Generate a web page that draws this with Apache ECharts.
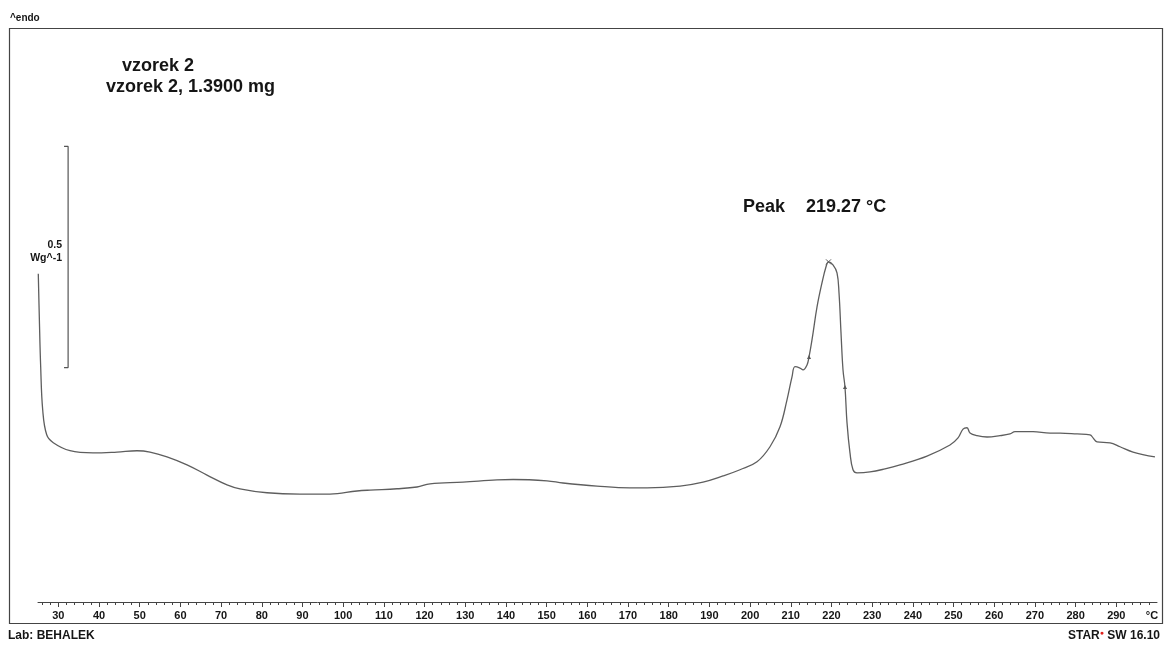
<!DOCTYPE html>
<html>
<head>
<meta charset="utf-8">
<script src="https://cdn.jsdelivr.net/npm/echarts@6/dist/echarts.min.js"></script>
<style>
  html, body { margin: 0; padding: 0; background: #fff; }
  #chart { width: 1166px; height: 646px; }
</style>
</head>
<body>
<div id="chart"></div>
<script>
// DSC curve, temperature in °C and heat flow in W/g (offset is arbitrary, only the 0.5 W/g bar matters)
const temps = [
  25.07, 25.32, 25.66, 26.16, 27.14, 28.76, 32.86, 38.52, 44.41, 49.33,
  52.53, 56.70, 61.62, 66.53, 71.45, 74.64, 81.28, 89.39, 96.76, 103.40,
  106.59, 113.23, 118.14, 121.34, 129.45, 137.80, 141.74, 150.09, 154.02, 162.38,
  170.49, 174.67, 182.78, 188.43, 193.35, 197.52, 201.70, 204.89, 207.35, 209.07,
  210.30, 211.04, 212.27, 213.01, 213.99, 214.48, 215.22, 216.45, 217.68, 218.66,
  219.27, 220.37, 221.36, 221.85, 222.34, 222.83, 223.32, 223.82, 224.55, 225.29,
  226.27, 229.47, 233.16, 236.84, 243.48, 249.13, 251.10, 252.33, 253.31, 254.05,
  255.77, 258.23, 261.42, 263.88, 265.11, 269.53, 273.71, 276.17, 280.35, 283.54,
  284.28, 285.26, 288.46, 290.91, 294.11, 299.50
];
const heatFlow = [
  0.742, 0.645, 0.532, 0.434, 0.378, 0.360, 0.342, 0.337, 0.339, 0.342,
  0.339, 0.328, 0.310, 0.287, 0.265, 0.256, 0.247, 0.244, 0.244, 0.251,
  0.253, 0.256, 0.260, 0.267, 0.271, 0.276, 0.277, 0.274, 0.269, 0.262,
  0.258, 0.258, 0.262, 0.271, 0.285, 0.299, 0.317, 0.351, 0.396, 0.457,
  0.509, 0.532, 0.529, 0.525, 0.536, 0.554, 0.593, 0.667, 0.722, 0.758,
  0.769, 0.762, 0.744, 0.699, 0.609, 0.525, 0.486, 0.405, 0.337, 0.299,
  0.292, 0.294, 0.301, 0.310, 0.330, 0.355, 0.371, 0.391, 0.394, 0.382,
  0.376, 0.373, 0.376, 0.380, 0.385, 0.385, 0.382, 0.382, 0.380, 0.378,
  0.371, 0.362, 0.360, 0.351, 0.339, 0.328
];

// peak marker and integration limits
const peakPoint = [219.27, 0.769];
const limitPoints = [[214.48, 0.554], [223.32, 0.486]];

// 0.5 W/g scale bar
const scaleBarT = [31.4, 32.4, 32.4, 31.4];
const scaleBarV = [1.03, 1.03, 0.53, 0.53];

// x axis ticks
const majorTicks = [30, 40, 50, 60, 70, 80, 90, 100, 110, 120, 130, 140, 150, 160, 170, 180,
  190, 200, 210, 220, 230, 240, 250, 260, 270, 280, 290];
const minorTicks = [];
for (let t = 26; t <= 298; t += 2) minorTicks.push(t);

const chart = echarts.init(document.getElementById('chart'));

const fontFamily = 'Liberation Sans, Arial, sans-serif';
const textCol = '#151515';

const option = {
  backgroundColor: '#fff',
  animation: false,
  grid: { left: 38, right: 9, top: 27, bottom: 44 },
  xAxis: [
    {
      type: 'value',
      min: 25,
      max: 300,
      axisLine: { show: true, lineStyle: { color: '#444', width: 1 } },
      axisTick: { show: true, customValues: minorTicks, length: 3, lineStyle: { color: '#444' } },
      axisLabel: {
        customValues: majorTicks,
        margin: 8,
        color: textCol,
        fontWeight: 'bold',
        fontSize: 11,
        fontFamily: fontFamily
      },
      splitLine: { show: false }
    },
    {
      type: 'value',
      min: 25,
      max: 300,
      position: 'bottom',
      axisLine: { show: false },
      axisTick: { show: true, customValues: majorTicks, length: 5, lineStyle: { color: '#444' } },
      axisLabel: { show: false },
      splitLine: { show: false }
    }
  ],
  yAxis: {
    type: 'value',
    min: 0,
    max: 1.3,
    show: false
  },
  series: [
    {
      name: 'vzorek 2',
      type: 'line',
      data: temps.map((t, i) => [t, heatFlow[i]]),
      showSymbol: false,
      smooth: 0.4,
      lineStyle: { color: '#5e5e5e', width: 1.3 }
    },
    {
      name: 'scale',
      type: 'line',
      data: scaleBarT.map((t, i) => [t, scaleBarV[i]]),
      showSymbol: false,
      lineStyle: { color: '#555', width: 1.2 }
    },
    {
      name: 'peak',
      type: 'scatter',
      data: [peakPoint],
      symbol: 'path://M0,0L10,10M10,0L0,10',
      symbolSize: 5,
      itemStyle: { color: 'none', borderColor: '#333', borderWidth: 1 }
    },
    {
      name: 'limits',
      type: 'scatter',
      data: limitPoints,
      symbol: 'triangle',
      symbolSize: 4,
      itemStyle: { color: '#222' }
    }
  ],
  graphic: [
    // frame around the plot
    {
      type: 'rect',
      shape: { x: 9.5, y: 28.5, width: 1153, height: 595 },
      style: { fill: 'none', stroke: '#444', lineWidth: 1.2 },
      silent: true
    },
    { type: 'text', left: 10, top: 13, style: { text: '^endo', font: 'bold 10px ' + fontFamily, fill: textCol } },
    { type: 'text', left: 122, top: 57, style: { text: 'vzorek 2', font: 'bold 18px ' + fontFamily, fill: textCol } },
    { type: 'text', left: 106, top: 78, style: { text: 'vzorek 2, 1.3900 mg', font: 'bold 18px ' + fontFamily, fill: textCol } },
    { type: 'text', left: 743, top: 198, style: { text: 'Peak', font: 'bold 18px ' + fontFamily, fill: textCol } },
    { type: 'text', left: 806, top: 198, style: { text: '219.27 °C', font: 'bold 18px ' + fontFamily, fill: textCol } },
    { type: 'text', x: 62, y: 245, style: { text: '0.5', font: 'bold 10.5px ' + fontFamily, fill: textCol, align: 'right', verticalAlign: 'middle' } },
    { type: 'text', x: 62, y: 258, style: { text: 'Wg^-1', font: 'bold 10.5px ' + fontFamily, fill: textCol, align: 'right', verticalAlign: 'middle' } },
    { type: 'text', x: 1152, y: 616, style: { text: '°C', font: 'bold 11px ' + fontFamily, fill: textCol, align: 'center', verticalAlign: 'middle' } },
    { type: 'text', left: 8, top: 630, style: { text: 'Lab: BEHALEK', font: 'bold 12px ' + fontFamily, fill: textCol } },
    {
      type: 'text',
      right: 6,
      top: 630,
      style: {
        text: '{a|STAR}{r|●}{a| SW 16.10}',
        rich: {
          a: { font: 'bold 12px ' + fontFamily, fill: textCol },
          r: { fontSize: 7, fill: '#e0201b', verticalAlign: 'top', padding: [0, 0, 5, 0] }
        }
      }
    }
  ]
};

chart.setOption(option);
</script>
</body>
</html>
